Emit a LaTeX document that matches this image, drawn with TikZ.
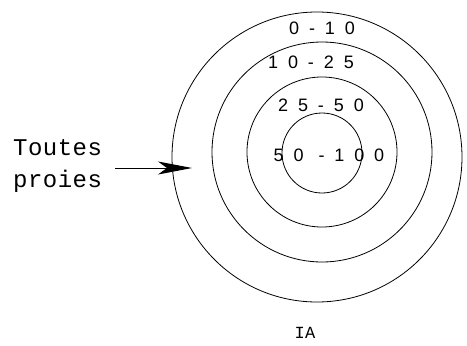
\documentclass[tikz,border=0pt]{standalone}
\usepackage{fontspec}
\setmainfont{Liberation Sans}
\newfontfamily\monofont[LetterSpace=2]{Liberation Mono}
\newfontfamily\numfont[LetterSpace=55]{Liberation Sans}
\usetikzlibrary{arrows.meta}
\begin{document}
\begin{tikzpicture}[x=1pt,y=-1pt,
  ring/.style={draw=black,line width=0.8pt},
  zone/.style={font=\numfont\fontsize{18}{20}\selectfont,inner sep=0pt,anchor=center},
  prey/.style={font=\monofont\fontsize{24}{26}\selectfont,inner sep=0pt,anchor=base west},
  arr/.style={line width=0.9pt,-{Stealth[length=34pt,width=13pt,inset=9pt]}}]
\useasboundingbox (0,0) rectangle (467,346);
\node[ring,circle,minimum size=290pt,inner sep=0pt] (c1) at (317,157) {};
\node[ring,circle,minimum size=220pt,inner sep=0pt] (c2) at (322,152) {};
\node[ring,circle,minimum size=150pt,inner sep=0pt] (c3) at (322,152) {};
\node[ring,circle,minimum size=80pt,inner sep=0pt] (c4) at (322,153) {};
\node[zone] (z1) at (322,28) {0-10};
\node[zone] (z2) at (311,62) {10-25};
\node[zone] (z3) at (321,105) {25-50};
\node[zone] (z4) at (329,155) {50 -100};
\node[prey] (t1) at (13,155) {Toutes};
\node[prey] (t2) at (13,187) {proies};
\coordinate (as) at (115,168);
\coordinate (ae) at (192,168);
\draw[arr] (as) -- (ae);
\node[font=\monofont\fontsize{17}{18}\selectfont,inner sep=0pt] (ia) at (305,333) {IA};
\end{tikzpicture}
\end{document}
